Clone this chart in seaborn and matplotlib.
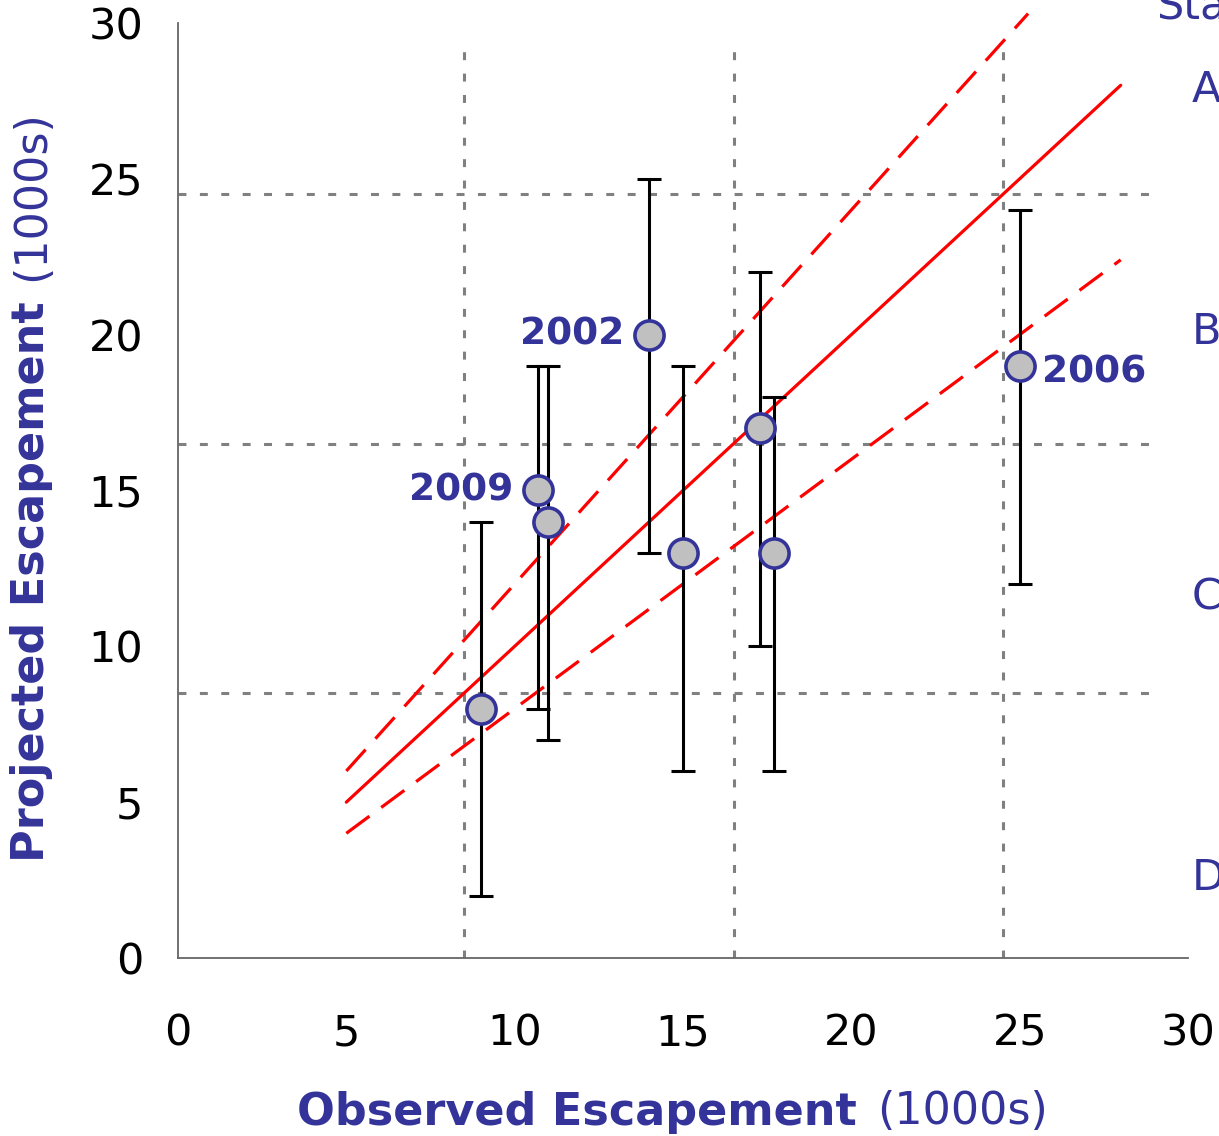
import matplotlib
matplotlib.use("Agg")
import matplotlib.pyplot as plt
import seaborn as sns
import pandas as pd
import numpy as np

# ---- data ----
obs = [9.0, 10.7, 11.0, 14.0, 15.0, 17.3, 17.7, 25.0]
proj = [8.0, 15.0, 14.0, 20.0, 13.0, 17.0, 13.0, 19.0]
err_low = [2.0, 8.0, 7.0, 13.0, 6.0, 10.0, 6.0, 12.0]
err_high = [14.0, 19.0, 19.0, 25.0, 19.0, 22.0, 18.0, 24.0]
year_labels = ["", "2009", "", "2002", "", "", "", "2006"]

fit_x = [5.0, 28.0]
fit_y = [5.0, 28.0]
upper_x = [5.0, 25.25]
upper_y = [6.0, 30.3]
lower_x = [5.0, 28.0]
lower_y = [4.0, 22.4]

bounds = [8.5, 16.5, 24.5]
status_letters = ["A", "B", "C", "D"]
status_y = [27.85, 20.08, 11.58, 2.57]
ticks = [0, 5, 10, 15, 20, 25, 30]

BLUE = "#333399"

sns.set_theme(style="white")
plt.rcParams['font.family'] = ['DejaVu Sans']

fig = plt.figure(figsize=(12.19, 11.36), dpi=100)
ax = fig.add_axes([0.146, 0.1567, 0.8286, 0.8231])
ax.set_xlim(0, 30)
ax.set_ylim(0, 30)

# dotted status boundaries
for b in bounds:
    ax.hlines(b, 0, 28.9, colors="#808080", linewidth=2.2,
              linestyles=(0, (2.6, 4.4)), zorder=1)
    ax.vlines(b, 0, 29.1, colors="#808080", linewidth=2.2,
              linestyles=(0, (2.6, 4.4)), zorder=1)

# fit lines
df_fit = pd.DataFrame({"x": fit_x, "y": fit_y})
df_up = pd.DataFrame({"x": upper_x, "y": upper_y})
df_lo = pd.DataFrame({"x": lower_x, "y": lower_y})
sns.lineplot(data=df_fit, x="x", y="y", ax=ax, color="#FF0000", linewidth=2.3, zorder=2)
sns.lineplot(data=df_up, x="x", y="y", ax=ax, color="#FF0000", linewidth=2.3, zorder=2)
sns.lineplot(data=df_lo, x="x", y="y", ax=ax, color="#FF0000", linewidth=2.3, zorder=2)
lines = ax.get_lines()
for ln in lines[1:3]:
    ln.set_dashes((9, 4.6))
lines[1].set_clip_on(False)

# error bars
proj_a = np.array(proj)
yerr = np.vstack([proj_a - np.array(err_low), np.array(err_high) - proj_a])
ax.errorbar(obs, proj, yerr=yerr, fmt="none", ecolor="black", elinewidth=2.2,
            capsize=8.5, capthick=2.2, zorder=3)

# points
df_pts = pd.DataFrame({"obs": obs, "proj": proj})
sns.scatterplot(data=df_pts, x="obs", y="proj", ax=ax, s=440, color="#C0C0C0",
                edgecolor=BLUE, linewidth=2.6, zorder=4)

# year labels
for x, y, lab in zip(obs, proj, year_labels):
    if not lab:
        continue
    if lab == "2006":
        ax.text(x + 0.65, y - 0.2, lab, ha="left", va="center", fontsize=27,
                fontweight="bold", color=BLUE, zorder=5)
    else:
        ax.text(x - 0.75, y, lab, ha="right", va="center", fontsize=27,
                fontweight="bold", color=BLUE, zorder=5)

# status letters
ax.text(29.05, 30.5, "Status", ha="left", va="center", fontsize=31, color=BLUE, clip_on=False)
for lab, y in zip(status_letters, status_y):
    ax.text(30.1, y, lab, ha="left", va="center", fontsize=31, color=BLUE, clip_on=False)

# axes styling
ax.set_xticks(ticks)
ax.set_yticks(ticks)
ax.tick_params(axis="both", which="both", labelsize=31, colors="#666666",
               labelcolor="black", length=11, width=1.3, direction="out")
ax.tick_params(axis="x", pad=28)
ax.tick_params(axis="y", pad=14)
for s in ["top", "right"]:
    ax.spines[s].set_visible(False)
for s in ["left", "bottom"]:
    ax.spines[s].set_color("#666666")
    ax.spines[s].set_linewidth(1.3)
ax.set_xlabel("")
ax.set_ylabel("")

# axis labels (bold + normal parts)
fig.canvas.draw()
r = fig.canvas.get_renderer()
W, H = fig.get_size_inches() * fig.dpi

tx1 = fig.text(297 / W, 1 - 1112 / H, "Observed Escapement", ha="left", va="center",
               fontsize=32, fontweight="bold", color=BLUE)
bb = tx1.get_window_extent(r)
fig.text((bb.x1 + 20) / W, 1 - 1112 / H, "(1000s)", ha="left", va="center",
         fontsize=32, color=BLUE)

ty1 = fig.text(32 / W, 1 - 862 / H, "Projected Escapement", ha="center", va="bottom",
               rotation=90, fontsize=32, fontweight="bold", color=BLUE)
bb = ty1.get_window_extent(r)
fig.text(32 / W, (bb.y1 + 20) / H, "(1000s)", ha="center", va="bottom",
         rotation=90, fontsize=32, color=BLUE)

fig.savefig("out.png", dpi=100)
